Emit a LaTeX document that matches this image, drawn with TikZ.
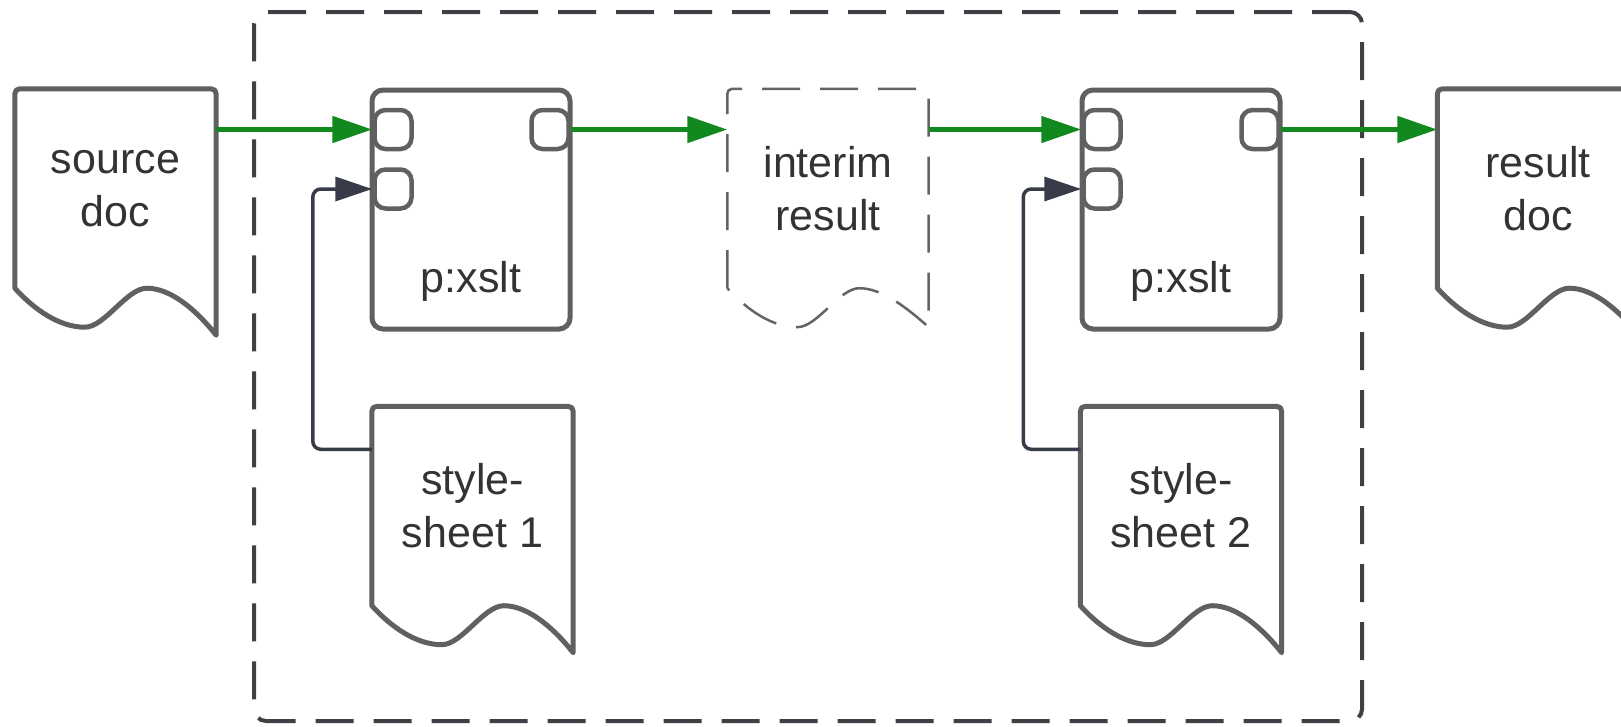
\documentclass[tikz,border=0pt]{standalone}
\usepackage{fontspec}
\setmainfont{Liberation Sans}
\usetikzlibrary{arrows.meta,calc}

\definecolor{edge}{RGB}{96,96,96}
\definecolor{lightedge}{RGB}{100,100,100}
\definecolor{flow}{RGB}{18,137,30}
\definecolor{wire}{RGB}{55,60,72}
\definecolor{framegray}{RGB}{62,64,70}
\definecolor{ink}{RGB}{51,51,51}

% Outline of a document shape around a node: rounded top corners,
% straight sides and a wavy bottom edge hanging below the node.
% #1 node, #2 style, #3 drop of the lower right corner
\newcommand\docoutline[3]{%
  \draw[#2]
    (#1.south west) -- ($(#1.north west)+(0,11)$)
    .. controls (#1.north west) .. ($(#1.north west)+(11,0)$)
    -- ($(#1.north east)+(-11,0)$)
    .. controls (#1.north east) .. ($(#1.north east)+(0,11)$)
    -- ($(#1.south east)+(0,#3)$)
    .. controls ($(#1.south west)+(180,20)$) and ($(#1.south west)+(155,0)$)
    .. ($(#1.south west)+(132,0)$)
    .. controls ($(#1.south west)+(112,0)$) and ($(#1.south west)+(90,39)$)
    .. ($(#1.south west)+(70,39)$)
    .. controls ($(#1.south west)+(45,39)$) and ($(#1.south west)+(20,22)$)
    .. (#1.south west) -- cycle;}

\begin{document}
\begin{tikzpicture}[x=1pt,y=-1pt,
  txt/.style={font=\fontsize{43}{53}\selectfont, text=ink, align=center},
  docbox/.style={txt, rectangle, minimum width=201pt, minimum height=199pt, inner sep=0pt},
  docline/.style={draw=edge, line width=5pt, line join=round},
  interimline/.style={draw=lightedge, line width=2.5pt, dash pattern=on 38pt off 20pt},
  stepbox/.style={draw=edge, line width=5pt, rounded corners=11pt,
    minimum width=198pt, minimum height=239pt, inner sep=0pt},
  port/.style={draw=edge, line width=4.5pt, rounded corners=11pt,
    minimum width=37pt, minimum height=39pt, inner sep=0pt},
  flowarrow/.style={draw=flow, line width=5pt, -{Triangle[length=40pt,width=26pt]}},
  wirearrow/.style={draw=wire, line width=3.5pt, rounded corners=8pt,
    -{Triangle[length=37pt,width=24pt]}},
  pipeframe/.style={draw=framegray, line width=4pt, rounded corners=12pt,
    dash pattern=on 38pt off 20pt}]

\useasboundingbox (0,0) rectangle (1621,726);
\fill[white] (0,0) rectangle (1621,726);

% pipeline boundary
\node[pipeframe, minimum width=1108pt, minimum height=709pt, inner sep=0pt]
  (pipeline) at (808,366.5) {};

% documents
\node[docbox] (src) at (115.5,188.5) {source\\doc};
\node[docbox] (mid) at (828,188.5) {interim\\result};
\node[docbox] (ss1) at (472.5,506) {style-\\sheet 1};
\node[docbox] (ss2) at (1181,506) {style-\\sheet 2};
\node[docbox] (res) at (1538,188.5) {result\\doc};

\docoutline{src}{docline}{47}
\docoutline{ss1}{docline}{47}
\docoutline{ss2}{docline}{47}
\docoutline{res}{docline}{47}
\docoutline{mid}{interimline}{39}

% first p:xslt step
\node[stepbox] (x1) at (471,209.5) {};
\node[port] (x1in) at (393,129.5) {};
\node[port] (x1ss) at (393,189) {};
\node[port] (x1out) at (550,129.5) {};
\node[txt] (x1lab) at (471,281) {p:xslt};

% second p:xslt step
\node[stepbox] (x2) at (1181,209.5) {};
\node[port] (x2in) at (1102,129.5) {};
\node[port] (x2ss) at (1102,189) {};
\node[port] (x2out) at (1260,129.5) {};
\node[txt] (x2lab) at (1181,281) {p:xslt};

% data flow
\draw[flowarrow] (src.east |- x1in) -- (x1in.west);
\draw[flowarrow] (x1out.east) -- (mid.west |- x1out);
\draw[flowarrow] (mid.east |- x2in) -- (x2in.west);
\draw[flowarrow] (x2out.east) -- (res.west |- x2out);

% stylesheet inputs
\draw[wirearrow] ($(ss1.north west)+(0,43)$) -- ++(-59,0) |- (x1ss.west);
\draw[wirearrow] ($(ss2.north west)+(0,43)$) -- ++(-57,0) |- (x2ss.west);

\end{tikzpicture}
\end{document}
